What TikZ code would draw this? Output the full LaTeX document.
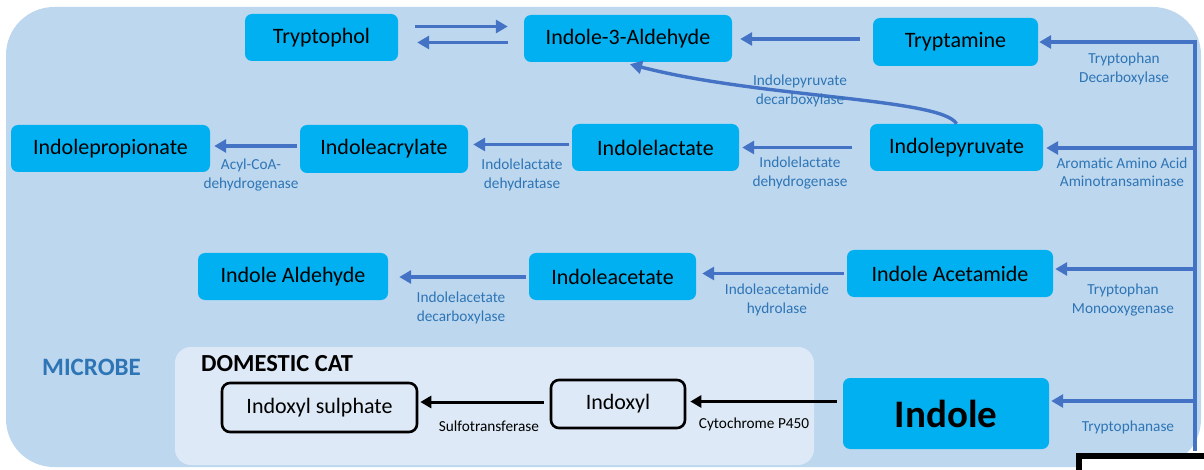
\documentclass[tikz,border=0pt]{standalone}
\usepackage{fontspec}
\setmainfont{Carlito}
\usetikzlibrary{arrows.meta}
\definecolor{bgblue}{HTML}{BDD7EE}
\definecolor{panel}{HTML}{DDE9F6}
\definecolor{boxc}{HTML}{00B0F0}
\definecolor{arrc}{HTML}{4472C4}
\definecolor{lblc}{HTML}{2E75B6}
\tikzset{
  cbox/.style={fill=boxc, rounded corners=7pt, inner sep=0pt, font=\fontsize{22}{26}\selectfont},
  kbox/.style={draw=black, line width=2.6pt, rounded corners=8pt, inner sep=0pt, font=\fontsize{22}{26}\selectfont},
  barrow/.style={draw=arrc, line width=3.4pt, -{Triangle[length=12pt,width=13pt]}},
  bline/.style={draw=arrc, line width=3.4pt},
  karrow/.style={draw=black, line width=3pt, -{Triangle[length=11pt,width=12pt]}},
  lbl/.style={text=lblc, align=center, inner sep=0pt, font=\fontsize{15.3}{18.5}\selectfont},
  klbl/.style={text=black, align=center, inner sep=0pt, font=\fontsize{15.3}{18.5}\selectfont},
}
\begin{document}
\begin{tikzpicture}[x=1pt,y=-1pt]
\useasboundingbox (0,0) rectangle (1204,470);
\clip (0,0) rectangle (1204,470);
% backgrounds
\fill[bgblue, rounded corners=48pt] (6,7) rectangle (1201,467);
\fill[panel, rounded corners=16pt] (175,347) rectangle (814,465);

% nodes
\node[cbox, minimum width=153pt, minimum height=47pt] (tol) at (321.5,37.5) {Tryptophol};
\node[cbox, minimum width=208pt, minimum height=47pt] (ald) at (628,38.5) {Indole-3-Aldehyde};
\node[cbox, minimum width=165pt, minimum height=48pt] (tam) at (955.5,42) {Tryptamine};
\node[cbox, minimum width=199pt, minimum height=47pt] (ipa) at (110.5,148.5) {Indolepropionate};
\node[cbox, minimum width=168pt, minimum height=48pt] (iacr) at (384,149) {Indoleacrylate};
\node[cbox, minimum width=167pt, minimum height=47pt] (ilac) at (655.5,147.5) {Indolelactate};
\node[cbox, minimum width=173pt, minimum height=47pt] (ipyr) at (956.5,147.5) {Indolepyruvate};
\node[cbox, minimum width=190pt, minimum height=47pt] (iald) at (293,276.5) {Indole Aldehyde};
\node[cbox, minimum width=167pt, minimum height=47pt] (iace) at (612.5,276.5) {Indoleacetate};
\node[cbox, minimum width=206pt, minimum height=47pt] (iam) at (950,273.5) {Indole Acetamide};
\node[cbox, minimum width=206pt, minimum height=71pt, font=\fontsize{39}{44}\selectfont\bfseries] (ind) at (946,413.5) {Indole};
\node[kbox, minimum width=195pt, minimum height=49pt] (ixs) at (319.5,407.5) {Indoxyl sulphate};
\node[kbox, minimum width=134pt, minimum height=48pt] (ixl) at (618,404) {Indoxyl};

\node[anchor=west, inner sep=0pt, font=\fontsize{24.5}{28}\selectfont\bfseries] (cat) at (201,364) {DOMESTIC CAT};
\node[inner sep=0pt, text=lblc, font=\fontsize{25}{28}\selectfont\bfseries] (mic) at (91.5,367) {MICROBE};

% right trunk
\coordinate (r1) at (1195,42);
\coordinate (r2) at (1195,148);
\coordinate (r3) at (1195,269);
\coordinate (r4) at (1195,401);
\coordinate (r5) at (1195,451);
\draw[bline] (r5) -- ([yshift=1.7pt]r1);
\draw[barrow, shorten >=1pt] (r1) -- (r1 -| tam.east);
\draw[barrow, shorten >=3pt] (r2) -- (r2 -| ipyr.east);
\draw[barrow, shorten >=2pt] (r3) -- (r3 -| iam.east);
\draw[barrow, shorten >=2pt] (r4) -- (r4 -| ind.east);

% horizontal arrows
\draw[barrow, shorten <=17pt, shorten >=16pt] ([yshift=11pt]tol.east) -- ([yshift=11pt]tol.east -| ald.west);
\draw[barrow, shorten <=16pt, shorten >=19pt] ([yshift=-4pt]ald.west) -- ([yshift=-4pt]ald.west -| tol.east);
\draw[barrow, shorten <=13pt, shorten >=8pt] ([yshift=3pt]tam.west) -- ([yshift=3pt]tam.west -| ald.east);
\draw[barrow, shorten <=18pt, shorten >=3pt] (ipyr.west) -- (ipyr.west -| ilac.east);
\draw[barrow, shorten <=3pt, shorten >=5pt] ([yshift=3pt]ilac.west) -- ([yshift=3pt]ilac.west -| iacr.east);
\draw[barrow, shorten <=3pt, shorten >=4pt] ([yshift=3pt]iacr.west) -- ([yshift=3pt]iacr.west -| ipa.east);
\draw[barrow, shorten <=3pt, shorten >=6pt] (iam.west) -- (iam.west -| iace.east);
\draw[barrow, shorten <=3pt, shorten >=11pt] ([yshift=-0.5pt]iace.west) -- ([yshift=-0.5pt]iace.west -| iald.east);
\draw[barrow] (ipyr.north) .. controls (942,98) and (760,98) .. ([xshift=2pt,yshift=-2pt]ald.south);

% black arrows
\draw[karrow, shorten <=6pt, shorten >=4pt] ([yshift=12pt]ind.west) -- ([yshift=12pt]ind.west -| ixl.east);
\draw[karrow, shorten <=6pt, shorten >=2pt] ([yshift=2pt]ixl.west) -- ([yshift=2pt]ixl.west -| ixs.east);

% labels
\node[lbl] (l1) at (800,91) {Indolepyruvate\\decarboxylase};
\node[lbl] (l2) at (800,173) {Indolelactate\\dehydrogenase};
\node[lbl] (l3) at (522,175) {Indolelactate\\dehydratase};
\node[lbl] (l4) at (251,175) {Acyl-CoA-\\dehydrogenase};
\node[lbl] (l5) at (777,300) {Indoleacetamide\\hydrolase};
\node[lbl] (l6) at (461,308) {Indolelacetate\\decarboxylase};
\node[lbl] (l7) at (1124,69) {Tryptophan\\Decarboxylase};
\node[lbl] (l8) at (1122,172) {Aromatic Amino Acid\\Aminotransaminase};
\node[lbl] (l9) at (1123,300) {Tryptophan\\Monooxygenase};
\node[lbl] (l10) at (1128,427) {Tryptophanase};
\node[klbl] (l11) at (489,426) {Sulfotransferase};
\node[klbl] (l12) at (754,424) {Cytochrome P450};

% frame fragment at the lower right corner
\draw[line width=6pt, fill=white] (1079,456) rectangle (1220,490);
\end{tikzpicture}
\end{document}
